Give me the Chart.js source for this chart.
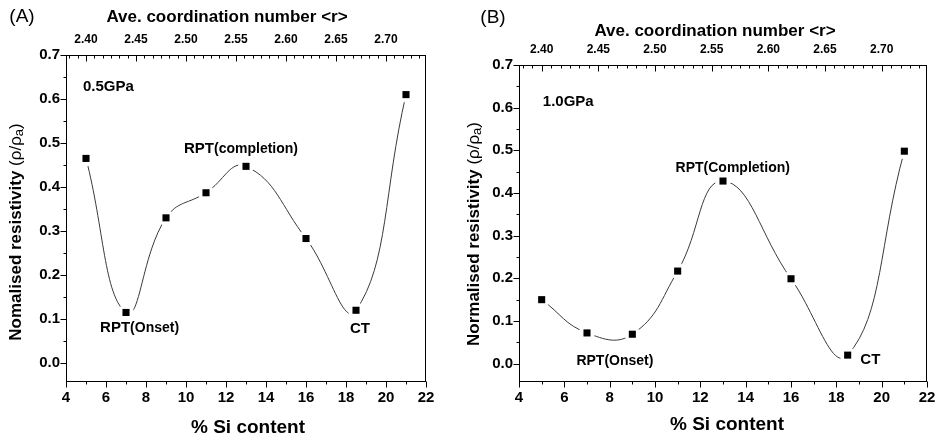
<!DOCTYPE html>
<html>
<head>
<meta charset="utf-8">
<title>Normalised resistivity vs Si content</title>
<script src="https://cdn.jsdelivr.net/npm/chart.js@4.4.0/dist/chart.umd.min.js"></script>
<style>
  html, body { margin: 0; padding: 0; background: #fff; }
  #wrap { position: relative; width: 936px; height: 437px; overflow: hidden; }
  canvas { position: absolute; top: 0; }
  #chartA { left: 0; }
  #chartB { left: 460px; }
</style>
</head>
<body>
<div id="wrap">
  <canvas id="chartA" width="460" height="437"></canvas>
  <canvas id="chartB" width="476" height="437"></canvas>
</div>
<script>
// % Si content of the samples
var siContent = [5, 7, 9, 11, 13, 16, 18.5, 21];
// normalised resistivity (rho / rho_a)
var resistivity05 = [0.465, 0.115, 0.330, 0.387, 0.447, 0.283, 0.120, 0.610];  // 0.5 GPa
var resistivity10 = [0.150, 0.072, 0.069, 0.217, 0.428, 0.199, 0.020, 0.498];  // 1.0 GPa

var siTicks = [4, 6, 8, 10, 12, 14, 16, 18, 20, 22];
var coordTicks = [2.40, 2.45, 2.50, 2.55, 2.60, 2.65, 2.70];
var resTicks = [0.0, 0.1, 0.2, 0.3, 0.4, 0.5, 0.6, 0.7];

var SI_MIN = 4, SI_MAX = 22, RES_MIN = -0.043, RES_MAX = 0.7;

// average coordination number for a given % Si
function coordOf(si) { return 2.30 + 0.02 * si; }

var FONT = "Arial, 'Liberation Sans', sans-serif";

function points(values) {
  return siContent.map(function (s, i) { return { x: s, y: values[i] }; });
}

// draws a run of differently styled text pieces centred on (cx, cy)
function drawParts(ctx, parts, cx, cy, rotate) {
  ctx.save();
  ctx.translate(cx, cy);
  if (rotate) ctx.rotate(-Math.PI / 2);
  ctx.textBaseline = 'middle';
  ctx.textAlign = 'left';
  var total = 0;
  parts.forEach(function (p) { ctx.font = p.font; total += ctx.measureText(p.text).width; });
  var x = -total / 2;
  parts.forEach(function (p) {
    ctx.font = p.font;
    ctx.fillText(p.text, x, p.dy || 0);
    x += ctx.measureText(p.text).width;
  });
  ctx.restore();
}

function line(ctx, x1, y1, x2, y2) {
  ctx.beginPath();
  ctx.moveTo(x1, y1);
  ctx.lineTo(x2, y2);
  ctx.stroke();
}

// frame, major/minor ticks, titles and the text notes inside the plot
var axisDecor = {
  id: 'axisDecor',
  afterDraw: function (chart, args, o) {
    var ctx = chart.ctx, a = chart.chartArea;
    var sx = chart.scales.x, sy = chart.scales.y, st = chart.scales.xTop;
    ctx.save();
    ctx.strokeStyle = '#000';
    ctx.fillStyle = '#000';
    ctx.lineWidth = 1;
    var L = Math.round(a.left) + 0.5, R = Math.round(a.right) - 0.5;
    var T = Math.round(a.top) + 0.5, B = Math.round(a.bottom) - 0.5;
    ctx.strokeRect(L, T, R - L, B - T);

    // left axis
    resTicks.forEach(function (v, i) {
      var py = Math.round(sy.getPixelForValue(v)) + 0.5;
      line(ctx, L - 6, py, L, py);
      if (i < resTicks.length - 1) {
        var pm = Math.round(sy.getPixelForValue(v + 0.05)) + 0.5;
        line(ctx, L - 3, pm, L, pm);
      }
    });

    // bottom axis
    siTicks.forEach(function (v, i) {
      var px = Math.round(sx.getPixelForValue(v)) + 0.5;
      line(ctx, px, B, px, B + 6);
      if (i < siTicks.length - 1) {
        var pm = Math.round(sx.getPixelForValue(v + 1)) + 0.5;
        line(ctx, pm, B, pm, B + 3);
      }
    });

    // top axis, ticks pointing inwards, five minors per major
    var step = 0.05 / 6;
    coordTicks.forEach(function (v, i) {
      var px = Math.round(st.getPixelForValue(v)) + 0.5;
      line(ctx, px, T, px, T + 6);
      for (var k = 1; k < 6; k++) {
        var m = v + k * step;
        if (m > st.max) break;
        var pm = Math.round(st.getPixelForValue(m)) + 0.5;
        line(ctx, pm, T, pm, T + 3);
      }
      if (i === 0) {
        for (var j = 1; v - j * step >= st.min; j++) {
          var pb = Math.round(st.getPixelForValue(v - j * step)) + 0.5;
          line(ctx, pb, T, pb, T + 3);
        }
      }
    });

    // titles
    var bold = function (s) { return 'bold ' + s + 'px ' + FONT; };
    var reg = function (s) { return s + 'px ' + FONT; };
    drawParts(ctx, [{ text: o.letter, font: reg(19) }], o.letterPos[0], o.letterPos[1]);
    drawParts(ctx, [{ text: 'Ave. coordination number <r>', font: bold(17) }], o.topTitle[0], o.topTitle[1]);
    drawParts(ctx, [{ text: '% Si content', font: bold(19) }], o.bottomTitle[0], o.bottomTitle[1]);
    drawParts(ctx, [
      { text: o.yWord + ' resistivity ', font: bold(17) },
      { text: '(\u03C1/\u03C1', font: reg(17) },
      { text: 'a', font: reg(13), dy: 3 },
      { text: ')', font: reg(17) }
    ], o.yTitle[0], o.yTitle[1], true);

    // notes placed in data coordinates
    o.notes.forEach(function (n) {
      var px = sx.getPixelForValue(n.si), py = sy.getPixelForValue(n.res);
      var parts = n.parts.map(function (p) { return { text: p[0], font: bold(p[1]) }; });
      if (n.left) {
        ctx.font = parts[0].font;
        px += ctx.measureText(parts[0].text).width / 2;
      }
      drawParts(ctx, parts, px, py);
    });
    ctx.restore();
  }
};

function buildChart(id, values, panel) {
  var tickFont = { family: FONT, weight: 'bold', size: 15 };
  return new Chart(document.getElementById(id), {
    type: 'line',
    data: {
      datasets: [
        { // spline through the measured points
          data: points(values),
          borderColor: '#3a3a3a',
          borderWidth: 1,
          tension: 0.45,
          pointRadius: 0,
          fill: false,
          order: 3
        },
        { // white patch so the curve stops short of each symbol
          data: points(values),
          showLine: false,
          pointStyle: 'circle',
          pointRadius: 8,
          pointBorderWidth: 0,
          pointBackgroundColor: '#fff',
          order: 2
        },
        { // square symbols
          data: points(values),
          showLine: false,
          pointStyle: 'rect',
          pointRadius: 5,
          pointBorderWidth: 0,
          pointBackgroundColor: '#000',
          order: 1
        }
      ]
    },
    options: {
      responsive: false,
      animation: false,
      events: [],
      layout: { autoPadding: false, padding: { left: 0, top: 0, bottom: 0, right: panel.padRight } },
      plugins: {
        legend: { display: false },
        tooltip: { enabled: false },
        axisDecor: panel
      },
      scales: {
        x: {
          type: 'linear', position: 'bottom', min: SI_MIN, max: SI_MAX,
          grid: { display: false, drawTicks: false }, border: { display: false },
          ticks: { color: '#000', font: tickFont, padding: 7, maxRotation: 0,
                   callback: function (v) { return String(v); } },
          afterBuildTicks: function (s) { s.ticks = siTicks.map(function (v) { return { value: v }; }); },
          afterFit: function (s) { s.height = 437 - panel.bottom; s.paddingLeft = 0; s.paddingRight = 0; }
        },
        xTop: {
          type: 'linear', axis: 'x', position: 'top', min: coordOf(SI_MIN), max: coordOf(SI_MAX),
          grid: { display: false, drawTicks: false }, border: { display: false },
          ticks: { color: '#000', font: { family: FONT, weight: 'bold', size: 12 }, padding: 8, maxRotation: 0,
                   callback: function (v) { return v.toFixed(2); } },
          afterBuildTicks: function (s) { s.ticks = coordTicks.map(function (v) { return { value: v }; }); },
          afterFit: function (s) { s.height = panel.top; s.paddingLeft = 0; s.paddingRight = 0; }
        },
        y: {
          type: 'linear', position: 'left', min: RES_MIN, max: RES_MAX,
          grid: { display: false, drawTicks: false }, border: { display: false },
          ticks: { color: '#000', font: tickFont, padding: 6,
                   callback: function (v) { return v.toFixed(1); } },
          afterBuildTicks: function (s) { s.ticks = resTicks.map(function (v) { return { value: v }; }); },
          afterFit: function (s) { s.width = panel.left; s.paddingTop = 0; s.paddingBottom = 0; }
        }
      }
    },
    plugins: [axisDecor]
  });
}

buildChart('chartA', resistivity05, {
  left: 66, top: 55, bottom: 382, padRight: 34,
  letter: '(A)', letterPos: [22, 17],
  topTitle: [227, 17], bottomTitle: [248, 428], yTitle: [16, 232], yWord: 'Nomalised',
  notes: [
    { parts: [['0.5GPa', 15]], si: 4.85, res: 0.627, left: true },
    { parts: [['RPT', 15], ['(completion)', 14]], si: 12.75, res: 0.486 },
    { parts: [['RPT', 15], ['(Onset)', 14]], si: 7.68, res: 0.079 },
    { parts: [['CT', 15]], si: 18.7, res: 0.077 }
  ]
});

buildChart('chartB', resistivity10, {
  left: 59, top: 65, bottom: 382, padRight: 9,
  letter: '(B)', letterPos: [33, 18],
  topTitle: [255, 31], bottomTitle: [267, 425], yTitle: [14, 234], yWord: 'Normalised',
  notes: [
    { parts: [['1.0GPa', 15]], si: 5.05, res: 0.613, left: true },
    { parts: [['RPT', 14], ['(Completion)', 14]], si: 13.43, res: 0.458 },
    { parts: [['RPT', 14], ['(Onset)', 14]], si: 8.23, res: 0.005 },
    { parts: [['CT', 15]], si: 19.5, res: 0.010 }
  ]
});
</script>
</body>
</html>
